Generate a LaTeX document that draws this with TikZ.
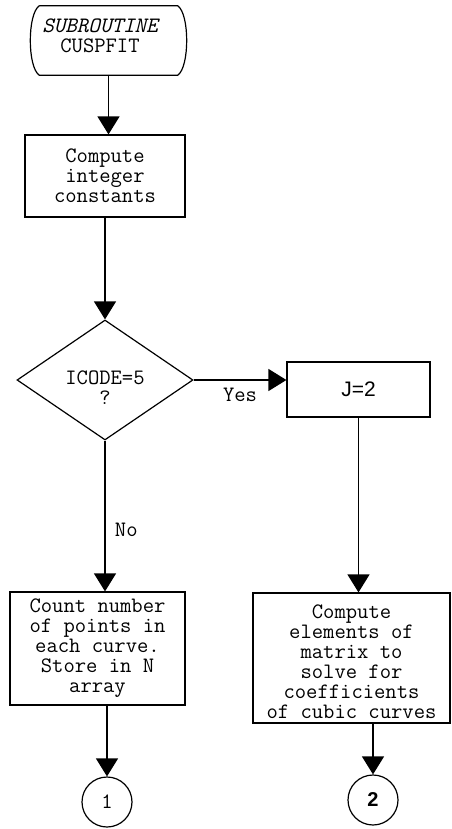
\documentclass[tikz,border=0pt]{standalone}
\usepackage{fontspec}
\newfontfamily\sansfont{Liberation Sans}
\usetikzlibrary{arrows.meta,shapes.geometric}

\begin{document}
\begin{tikzpicture}[x=1pt,y=-1pt,
  every node/.style={font=\fontsize{22}{20}\selectfont\ttfamily},
  proc/.style={draw, line width=1.2pt, align=center, inner sep=0pt},
  flow/.style={line width=1.3pt, -{Triangle[width=22pt,length=18pt]}},
  outline/.style={line width=1.2pt},
  conn/.style={draw, circle, line width=1.2pt, minimum size=50pt, inner sep=0pt}]
\useasboundingbox (0,0) rectangle (451,829);

% terminal: entry point of the subroutine
\node[minimum width=138pt, minimum height=69pt, inner sep=0pt] (start) at (108.5,40.5) {};
\draw[outline] (start.north west) -- (start.north east)
  .. controls +(12,8) and +(12,-8) .. (start.south east)
  -- (start.south west)
  .. controls +(-12,-8) and +(-12,8) .. (start.north west);
\node[align=center] (starttext) at (100,36) {{\itshape SUBROUTINE}\\CUSPFIT};

% processing steps
\node[proc, minimum width=160pt, minimum height=82pt] (init) at (105,176) {Compute\\integer\\constants};
\node[draw, diamond, aspect=1.47, minimum width=176pt, minimum height=120pt,
      inner sep=0pt, line width=1.2pt, align=center] (test) at (105,380)
  {\rule{0pt}{29pt}ICODE=5\\?};
\node[proc, minimum width=143pt, minimum height=55pt,
      font=\sansfont\fontsize{21}{20}\selectfont] (jset) at (358.5,389.5) {J=2};
\node[proc, minimum width=175pt, minimum height=113pt] (count) at (97.5,648.5)
  {Count number\\of points in\\each curve.\\Store in N\\array};
\node[proc, minimum width=197pt, minimum height=130pt] (coef) at (351.5,658)
  {\rule{0pt}{22pt}Compute\\elements of\\matrix to\\solve for\\coefficients\\of cubic curves};

% off-page connectors
\node[conn] (c1) at (107,802) {1};
\node[conn, font=\sansfont\bfseries\fontsize{20}{20}\selectfont] (c2) at (373,800) {2};

% flow lines
\draw[flow] (start.south) -- (init.north -| start.south);
\draw[flow] (init.south) -- (test.north);
\draw[flow] (test.east) -- (test.east -| jset.west)
  node[midway, below=4pt] (yeslbl) {Yes};
\draw[flow] (test.south) -- (test.south |- count.north)
  node[pos=0.59, right=6pt] (nolbl) {No};
\draw[flow] (jset.south) -- (jset.south |- coef.north);
\draw[flow] (count.south -| c1) -- (c1.north);
\draw[flow] (coef.south -| c2) -- (c2.north);
\end{tikzpicture}
\end{document}
